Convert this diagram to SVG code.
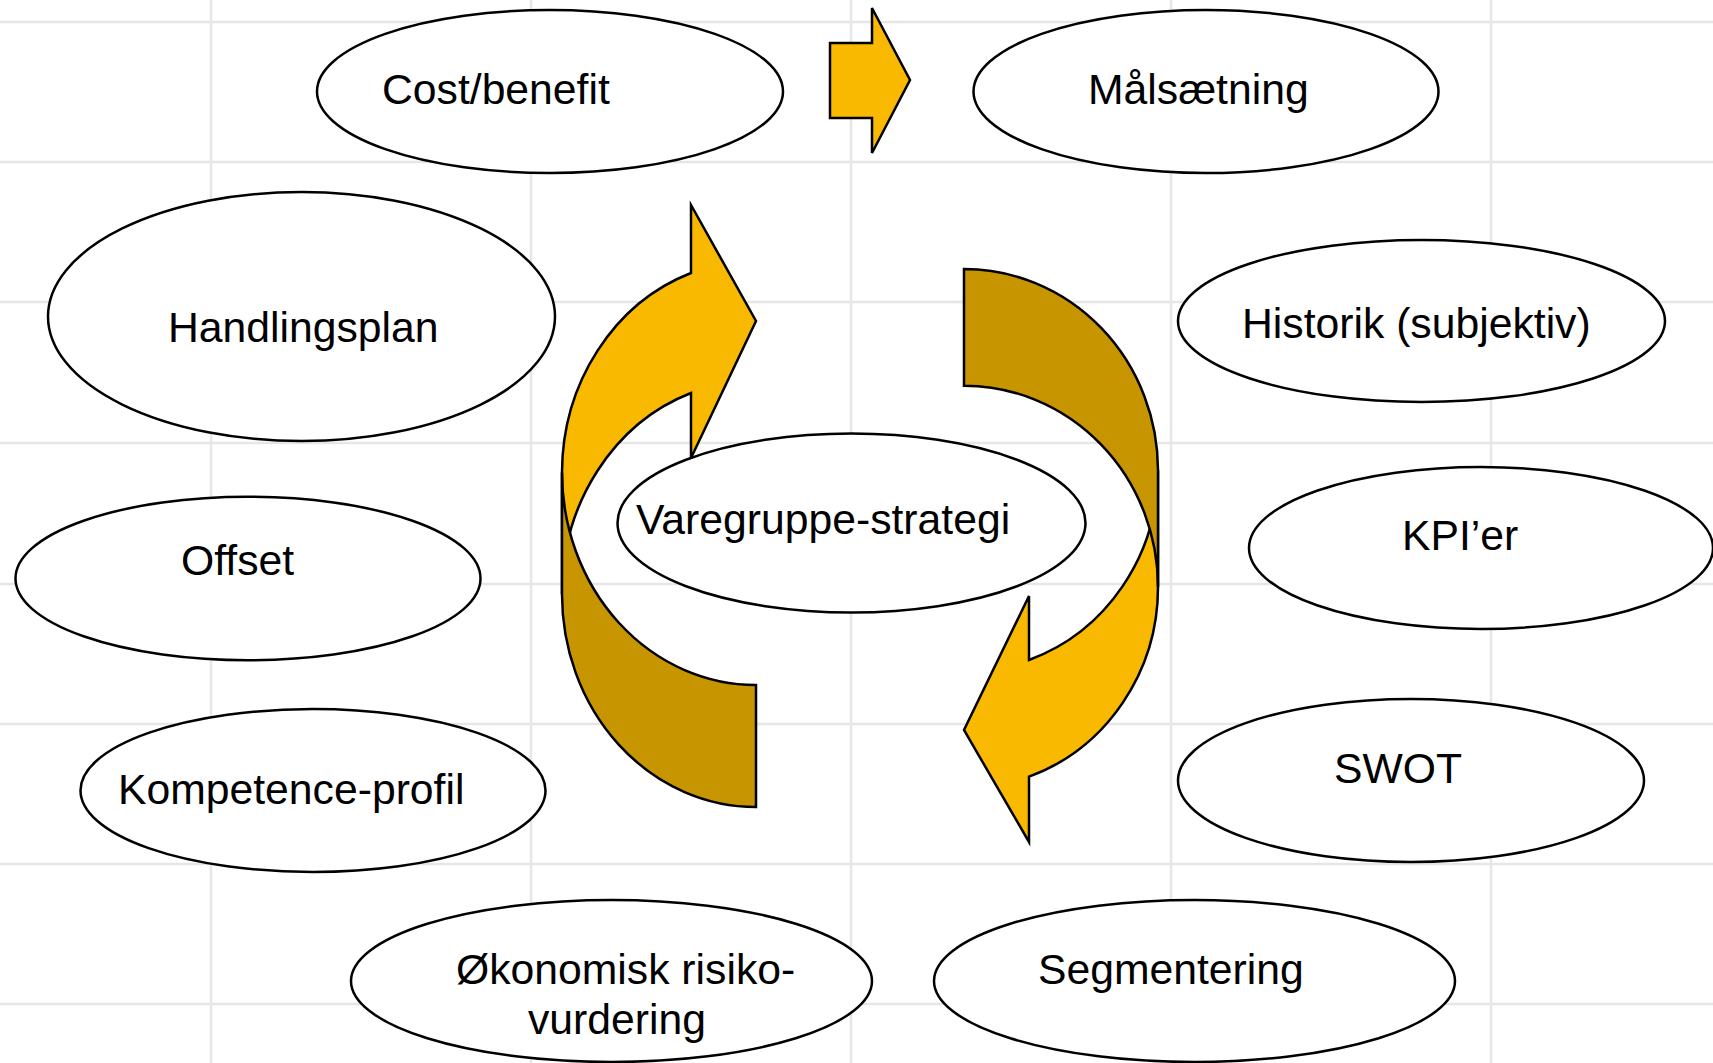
<svg xmlns="http://www.w3.org/2000/svg" width="1713" height="1063" viewBox="0 0 1713 1063">
<style>
.grid line{stroke:#e6e6e6;stroke-width:2.5}
.node ellipse{fill:#ffffff;stroke:#000000;stroke-width:2.5}
.label{font-family:"Liberation Sans",Arial,sans-serif;font-size:42.7px;fill:#000000}
.front{fill:#F8B900;stroke:#000000;stroke-width:2.5;stroke-linejoin:miter}
.back{fill:#C69500;stroke:#000000;stroke-width:2.5;stroke-linejoin:miter}
</style>
<rect x="0" y="0" width="1713" height="1063" fill="#ffffff"/>
<g class="grid">
<line x1="211" y1="0" x2="211" y2="1063"/>
<line x1="531" y1="0" x2="531" y2="1063"/>
<line x1="851" y1="0" x2="851" y2="1063"/>
<line x1="1171" y1="0" x2="1171" y2="1063"/>
<line x1="1491" y1="0" x2="1491" y2="1063"/>
<line x1="0" y1="22" x2="1713" y2="22"/>
<line x1="0" y1="162" x2="1713" y2="162"/>
<line x1="0" y1="302" x2="1713" y2="302"/>
<line x1="0" y1="443" x2="1713" y2="443"/>
<line x1="0" y1="584" x2="1713" y2="584"/>
<line x1="0" y1="724" x2="1713" y2="724"/>
<line x1="0" y1="864" x2="1713" y2="864"/>
<line x1="0" y1="1004" x2="1713" y2="1004"/>
</g>
<g id="connectors">
<path class="front" d="M830,43 L872,43 L872,8 L910,80 L872,153 L872,118 L830,118 Z"/>
<path class="front" d="M562,472.5 A194,212.7 0 0 1 691,273 L691,205 L756,321 L691,458 L691,393 A194,212.7 0 0 0 562,594 Z"/>
<path class="back" d="M756,807 A194,212.7 0 0 1 562,594 L562,472.5 A194,212.7 0 0 0 756,685 Z"/>
<path class="front" d="M1158,587 A194,201.3 0 0 1 1029,776.7 L1029,842 L964,730 L1029,596 L1029,660 A194,201.3 0 0 0 1158,470.3 Z"/>
<path class="back" d="M964,269 A194,201.3 0 0 1 1158,470.3 L1158,587 A194,201.3 0 0 0 964,385.7 Z"/>
</g>
<g id="node-cost-benefit" class="node">
<ellipse cx="550" cy="91.5" rx="233" ry="81.5"/>
<text class="label" x="382" y="104">Cost/benefit</text>
</g>
<g id="node-malsaetning" class="node">
<ellipse cx="1206" cy="91.5" rx="232.5" ry="81.5"/>
<text class="label" x="1088" y="104">Målsætning</text>
</g>
<g id="node-handlingsplan" class="node">
<ellipse cx="301.5" cy="316.5" rx="253.5" ry="124.5"/>
<text class="label" x="168" y="342">Handlingsplan</text>
</g>
<g id="node-historik" class="node">
<ellipse cx="1421.5" cy="321" rx="243.5" ry="81"/>
<text class="label" x="1242" y="337.5">Historik (subjektiv)</text>
</g>
<g id="node-varegruppe-strategi" class="node">
<ellipse cx="851.5" cy="523" rx="234" ry="89.5"/>
<text class="label" x="636" y="534">Varegruppe-strategi</text>
</g>
<g id="node-offset" class="node">
<ellipse cx="248" cy="578.5" rx="232.5" ry="81.7"/>
<text class="label" x="181" y="575">Offset</text>
</g>
<g id="node-kpier" class="node">
<ellipse cx="1481" cy="548" rx="232" ry="81"/>
<text class="label" x="1402" y="550">KPI’er</text>
</g>
<g id="node-kompetence-profil" class="node">
<ellipse cx="313" cy="790.5" rx="232.5" ry="81.5"/>
<text class="label" x="118" y="803.5">Kompetence-profil</text>
</g>
<g id="node-swot" class="node">
<ellipse cx="1411" cy="780.5" rx="233" ry="81.5"/>
<text class="label" x="1334" y="783">SWOT</text>
</g>
<g id="node-okonomisk" class="node">
<ellipse cx="611.5" cy="981" rx="260.5" ry="81"/>
<text class="label" x="456" y="984">Økonomisk risiko-</text>
<text class="label" x="528" y="1034">vurdering</text>
</g>
<g id="node-segmentering" class="node">
<ellipse cx="1194.5" cy="981" rx="260.5" ry="81"/>
<text class="label" x="1038" y="984">Segmentering</text>
</g>
</svg>
